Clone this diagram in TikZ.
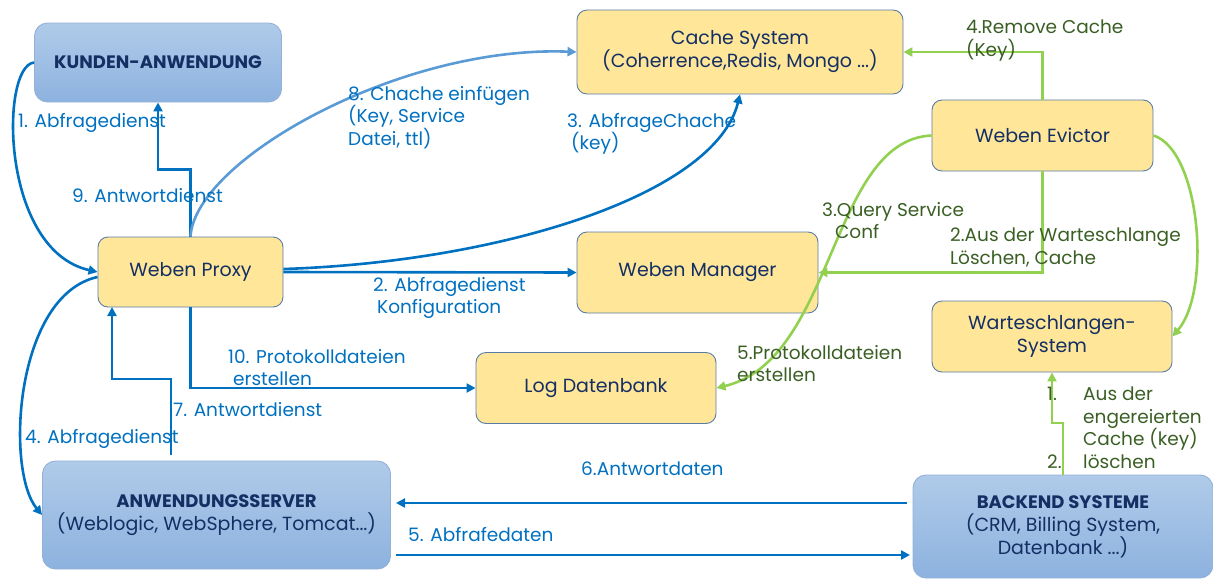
\documentclass[tikz,border=0pt]{standalone}
\usepackage{fontspec}
\setmainfont{Poppins}
\usetikzlibrary{arrows.meta}
\definecolor{lblue}{HTML}{0070C0}
\definecolor{llight}{HTML}{5B9BD5}
\definecolor{lgreen}{HTML}{92D050}
\definecolor{tgreen}{HTML}{3A5F24}
\definecolor{navy}{HTML}{132F63}
\definecolor{yfill}{HTML}{FFE699}
\definecolor{yborder}{HTML}{5A7CA6}
\definecolor{btop}{HTML}{B0CBE9}
\definecolor{bbot}{HTML}{8DB2DF}
\definecolor{bborder}{HTML}{93B0D6}
\tikzset{
  ybox/.style={rounded corners=10pt, draw=yborder, fill=yfill, line width=0.9pt, align=center, text=navy, inner sep=0pt, font=\fontsize{19}{23}\selectfont},
  bbox/.style={rounded corners=13pt, draw=bborder, top color=btop, bottom color=bbot, line width=0.9pt, align=center, text=navy, inner sep=0pt, font=\fontsize{19}{23}\selectfont},
  tip/.style={-{Triangle[length=9pt,width=9pt]}},
  bline/.style={draw=lblue, line width=2.6pt, tip},
  lline/.style={draw=llight, line width=2.6pt, tip},
  gline/.style={draw=lgreen, line width=2.6pt, tip},
  blbl/.style={text=lblue, anchor=north west, inner sep=0pt, align=left, font=\fontsize{18.5}{22.5}\selectfont},
  glbl/.style={text=tgreen, anchor=north west, inner sep=0pt, align=left, font=\fontsize{18.5}{22.5}\selectfont},
}
\begin{document}
\begin{tikzpicture}[x=1pt,y=-1pt]
\useasboundingbox (0,0) rectangle (1213,579);
% nodes
\node[bbox, minimum width=247pt, minimum height=79pt] (kunden) at (158,62.5) {\fontsize{18}{23}\selectfont\bfseries KUNDEN-ANWENDUNG};
\node[ybox, minimum width=326pt, minimum height=84pt] (cache) at (740,52) {Cache System\\(Coherrence,Redis, Mongo ...)};
\node[ybox, minimum width=221pt, minimum height=71pt] (evictor) at (1042.5,135.5) {Weben Evictor};
\node[ybox, minimum width=185pt, minimum height=70pt] (proxy) at (190.5,272) {Weben Proxy};
\node[ybox, minimum width=241pt, minimum height=81pt] (manager) at (697.5,272.5) {Weben Manager};
\node[ybox, minimum width=240pt, minimum height=71pt] (warte) at (1052,336.5) {Warteschlangen-\\System};
\node[ybox, minimum width=240pt, minimum height=71pt] (log) at (596,388) {Log Datenbank};
\node[bbox, minimum width=348pt, minimum height=108pt] (anw) at (216.5,515) {{\fontsize{18}{23}\selectfont\bfseries ANWENDUNGSSERVER}\\(Weblogic, WebSphere, Tomcat...)};
\node[bbox, minimum width=300pt, minimum height=103pt] (backend) at (1063,526.5) {{\fontsize{18}{23}\selectfont\bfseries BACKEND SYSTEME}\\(CRM, Billing System,\\Datenbank ...)};
% coordinates for free ends
\coordinate (a7) at (171,455);
\coordinate (b7) at (171,379);
\coordinate (p7) at (112,307);
\coordinate (s6) at (907,503);
\coordinate (e6) at (396,503);
\coordinate (s5) at (396,555);
\coordinate (e5) at (910,555);
\coordinate (g1) at (1063,475);
\coordinate (g2) at (1063,423);
% blue connectors
\draw[bline] (kunden.west) .. controls (0,66) and (0,250) .. (proxy.west);
\draw[bline] ([yshift=-5pt]proxy.west) .. controls (15,295) and (5,470) .. (anw.west);
\draw[bline] (proxy.north) -- ++(0,-67) -| (kunden.south);
\draw[lline] (proxy.north) .. controls (195,160) and (400,45) .. (cache.west);
\draw[bline] ([yshift=3pt]proxy.east) .. controls (500,262) and (715,195) .. (cache.south);
\draw[bline] (proxy.east) -- (manager.west);
\draw[bline] (proxy.south) |- (log.west);
\draw[bline] (a7) -- (b7) -| (p7);
\draw[bline] (s6) -- (e6);
\draw[bline] (s5) -- (e5);
% green connectors
\draw[gline] (evictor.north) |- (cache.east);
\draw[gline] (evictor.south) |- (manager.east);
\draw[gline] (evictor.west) .. controls (830,140) and (835,360) .. (log.east);
\draw[gline] (evictor.east) .. controls (1200,150) and (1212,290) .. (warte.east);
\draw[gline] (g1) -- (g2) -| (warte.south);
% labels
\node[blbl] (l1) at (18,113) {1. Abfragedienst};
\node[blbl] (l9) at (72,188) {9. Antwortdienst};
\node[blbl] (l8) at (348,86) {8. Chache einfügen\\(Key, Service\\Datei, ttl)};
\node[blbl] (l3) at (567,113) {3. AbfrageChache\\\hspace*{4pt}(key)};
\node[blbl] (l2) at (373,277) {2. Abfragedienst\\\hspace*{4pt}Konfiguration};
\node[blbl] (l10) at (228,349) {10. Protokolldateien\\\hspace*{5pt}erstellen};
\node[blbl] (l7) at (173,402) {7. Antwortdienst};
\node[blbl] (l4) at (25,429) {4. Abfragedienst};
\node[blbl] (l6) at (581,462) {6.Antwortdaten};
\node[blbl] (l5) at (408,527) {5. Abfrafedaten};
\node[glbl] (g4) at (966,20) {4.Remove Cache\\(Key)};
\node[glbl] (g3) at (822,202) {3.Query Service\\\hspace*{13pt}Conf};
\node[glbl] (g2l) at (950,228) {2.Aus der Warteschlange\\Löschen, Cache};
\node[glbl] (g5) at (737,345) {5.Protokolldateien\\erstellen};
\node[glbl] (gn1) at (1047,387) {1.};
\node[glbl] (gn2) at (1047,455) {2.};
\node[glbl] (gtx) at (1083,387) {Aus der\\engereierten\\Cache (key)\\löschen};
\end{tikzpicture}
\end{document}
